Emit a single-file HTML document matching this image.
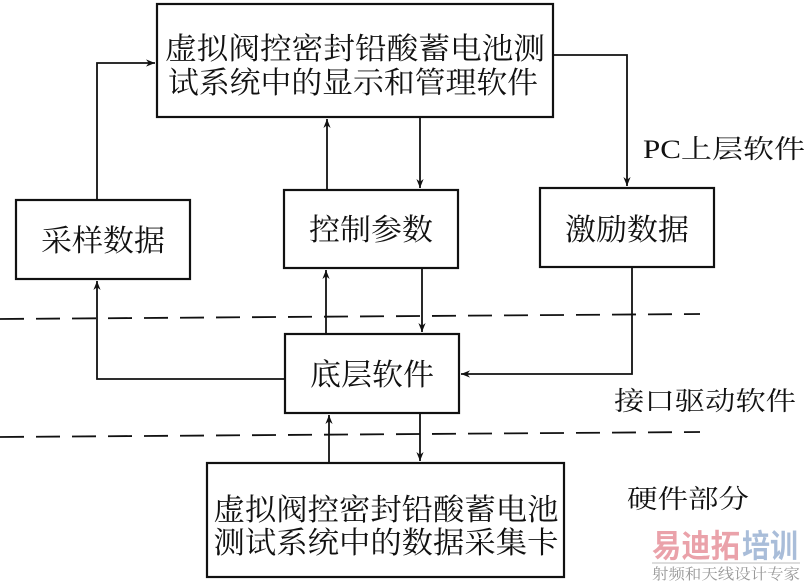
<!DOCTYPE html>
<html><head><meta charset="utf-8"><style>
html,body{margin:0;padding:0;background:#fff;}
svg{display:block;}
text{font-family:"Liberation Serif","Noto Serif CJK SC",serif;fill:#111;}
</style></head><body>
<svg width="806" height="581" viewBox="0 0 806 581" xmlns="http://www.w3.org/2000/svg">
<defs>
<marker id="a" viewBox="0 0 10 10" refX="10" refY="5" markerWidth="9" markerHeight="9" orient="auto" markerUnits="userSpaceOnUse">
<path d="M0,1 L10,5 L0,9 L3,5 z" fill="#111"/>
</marker>
</defs>
<g fill="none" stroke="#111" stroke-width="2.2">
<rect x="157" y="4" width="396" height="113"/>
<rect x="16" y="200" width="174" height="79"/>
<rect x="284" y="190" width="174" height="78"/>
<rect x="540" y="188" width="174" height="79"/>
<rect x="285" y="334" width="174" height="79"/>
<rect x="207" y="463" width="357" height="114"/>
</g>
<g fill="none" stroke="#111" stroke-width="1.8">
<polyline points="97,200 97,63 155,63" marker-end="url(#a)"/>
<polyline points="553,55 627,55 627,186" marker-end="url(#a)"/>
<line x1="327" y1="190" x2="327" y2="119" marker-end="url(#a)"/>
<line x1="420" y1="117" x2="420" y2="188" marker-end="url(#a)"/>
<line x1="326" y1="334" x2="326" y2="270" marker-end="url(#a)"/>
<line x1="422" y1="268" x2="422" y2="332" marker-end="url(#a)"/>
<polyline points="285,379 97,379 97,281" marker-end="url(#a)"/>
<polyline points="632,267 632,374 461,374" marker-end="url(#a)"/>
<line x1="329" y1="463" x2="329" y2="415" marker-end="url(#a)"/>
<line x1="420" y1="413" x2="420" y2="461" marker-end="url(#a)"/>
<line x1="0" y1="319" x2="700" y2="314" stroke-dasharray="24,12"/>
<line x1="0" y1="437" x2="700" y2="432" stroke-dasharray="24,12"/>
</g>
<g font-size="30">
<text x="355" y="59" text-anchor="middle" textLength="380" lengthAdjust="spacingAndGlyphs">虚拟阀控密封铅酸蓄电池测</text>
<text x="353" y="93" text-anchor="middle" textLength="370" lengthAdjust="spacingAndGlyphs">试系统中的显示和管理软件</text>
<text x="103" y="251" text-anchor="middle" textLength="124" lengthAdjust="spacingAndGlyphs">采样数据</text>
<text x="371" y="240" text-anchor="middle" textLength="124" lengthAdjust="spacingAndGlyphs">控制参数</text>
<text x="627" y="240" text-anchor="middle" textLength="124" lengthAdjust="spacingAndGlyphs">激励数据</text>
<text x="372" y="385" text-anchor="middle" textLength="124" lengthAdjust="spacingAndGlyphs">底层软件</text>
<text x="386" y="520" text-anchor="middle" textLength="345" lengthAdjust="spacingAndGlyphs">虚拟阀控密封铅酸蓄电池</text>
<text x="386" y="553" text-anchor="middle" textLength="345" lengthAdjust="spacingAndGlyphs">测试系统中的数据采集卡</text>
</g>
<g font-size="26">
<text x="643" y="158" textLength="162" lengthAdjust="spacingAndGlyphs">PC上层软件</text>
<text x="614" y="410" textLength="182" lengthAdjust="spacingAndGlyphs">接口驱动软件</text>
<text x="627" y="508" textLength="122" lengthAdjust="spacingAndGlyphs">硬件部分</text>
</g>
<g font-family="'Noto Sans CJK SC',sans-serif" font-weight="bold">
<text x="652" y="557" font-size="32" textLength="88" lengthAdjust="spacingAndGlyphs" style="fill:#eaa2aa;font-family:'Noto Sans CJK SC',sans-serif">易迪拓</text>
<text x="742" y="557" font-size="32" textLength="56" lengthAdjust="spacingAndGlyphs" style="fill:#a9bdd9;font-family:'Noto Sans CJK SC',sans-serif">培训</text>
</g>
<line x1="652" y1="563" x2="800" y2="563" stroke="#bbb" stroke-width="1"/>
<text x="652" y="579" font-size="15" textLength="148" lengthAdjust="spacingAndGlyphs" style="fill:#999">射频和天线设计专家</text>
</svg>
</body></html>
